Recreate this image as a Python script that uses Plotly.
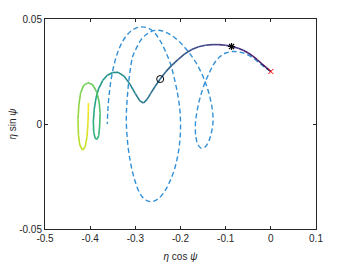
import plotly.graph_objects as go
from plotly.colors import sample_colorscale

# dashed trajectory (eta cos psi, eta sin psi)
dash_x = [0.000, -0.012, -0.025, -0.040, -0.055, -0.070, -0.085, -0.100, -0.113, -0.125,
          -0.136, -0.147, -0.156, -0.163, -0.167, -0.166, -0.161, -0.153, -0.145, -0.137,
          -0.131, -0.128, -0.129, -0.134, -0.142, -0.153, -0.168, -0.185, -0.203, -0.222,
          -0.240, -0.257, -0.272, -0.286, -0.298, -0.306, -0.313, -0.318, -0.320, -0.317,
          -0.311, -0.302, -0.290, -0.277, -0.265, -0.252, -0.238, -0.225, -0.214, -0.206,
          -0.201, -0.200, -0.202, -0.207, -0.214, -0.222, -0.233, -0.246, -0.260, -0.275,
          -0.290, -0.305, -0.320, -0.334, -0.345, -0.353, -0.358, -0.361, -0.362]
dash_y = [0.0250, 0.0268, 0.0290, 0.0315, 0.0333, 0.0343, 0.0345, 0.0338, 0.0320, 0.0290,
          0.0245, 0.0190, 0.0130, 0.0065, 0.0000, -0.0060, -0.0100, -0.0116, -0.0108, -0.0080,
          -0.0035, 0.0010, 0.0060, 0.0120, 0.0180, 0.0240, 0.0300, 0.0350, 0.0393, 0.0425,
          0.0443, 0.0446, 0.0432, 0.0405, 0.0360, 0.0320, 0.0230, 0.0120, 0.0020, -0.0090,
          -0.0180, -0.0262, -0.0330, -0.0362, -0.0370, -0.0360, -0.0330, -0.0280, -0.0220, -0.0150,
          -0.0070, 0.0010, 0.0080, 0.0150, 0.0220, 0.0285, 0.0345, 0.0400, 0.0440, 0.0459,
          0.0462, 0.0450, 0.0420, 0.0368, 0.0300, 0.0220, 0.0140, 0.0060, 0.0000]

# solid trajectory, coloured along its length
traj_x = [0.000, -0.010, -0.020, -0.030, -0.040, -0.050, -0.060, -0.072, -0.087, -0.100,
          -0.115, -0.130, -0.145, -0.160, -0.175, -0.190, -0.205, -0.220, -0.233, -0.245,
          -0.256, -0.266, -0.274, -0.282, -0.290, -0.300, -0.312, -0.325, -0.338, -0.350,
          -0.362, -0.372, -0.381, -0.387, -0.391, -0.393, -0.392, -0.389, -0.385, -0.381,
          -0.379, -0.378, -0.380, -0.386, -0.395, -0.405, -0.414, -0.421, -0.425, -0.427,
          -0.426, -0.423, -0.417, -0.411, -0.407, -0.405, -0.404, -0.404]
traj_y = [0.0250, 0.0268, 0.0287, 0.0306, 0.0323, 0.0338, 0.0350, 0.0361, 0.0369, 0.0375,
          0.0378, 0.0378, 0.0375, 0.0368, 0.0355, 0.0335, 0.0308, 0.0278, 0.0248, 0.0214,
          0.0180, 0.0146, 0.0117, 0.0100, 0.0110, 0.0145, 0.0190, 0.0228, 0.0246, 0.0245,
          0.0232, 0.0208, 0.0170, 0.0125, 0.0070, 0.0010, -0.0040, -0.0068, -0.0073, -0.0055,
          -0.0010, 0.0050, 0.0105, 0.0155, 0.0188, 0.0196, 0.0185, 0.0150, 0.0090, 0.0020,
          -0.0050, -0.0100, -0.0124, -0.0110, -0.0060, 0.0000, 0.0060, 0.0100]

start_pt = (0.000, 0.0250)
star_pt = (-0.087, 0.0369)
circ_pt = (-0.245, 0.0214)

x_ticks = [-0.5, -0.4, -0.3, -0.2, -0.1, 0, 0.1]
y_ticks = [-0.05, 0, 0.05]

fig = go.Figure()

fig.add_trace(go.Scatter(x=dash_x, y=dash_y, mode="lines", line_shape="spline",
                         line=dict(color="#3490D6", width=1.4, dash="5px,3px")))

# colour each segment by normalised path length (pixel-ish scale)
sx, sy = 451.7, 2100.0
cum = [0.0]
for i in range(1, len(traj_x)):
    dx = (traj_x[i] - traj_x[i - 1]) * sx
    dy = (traj_y[i] - traj_y[i - 1]) * sy
    cum.append(cum[-1] + (dx * dx + dy * dy) ** 0.5)
total = cum[-1]
mids = [((cum[i] + cum[i + 1]) / 2 / total) ** 0.85 for i in range(len(cum) - 1)]
cols = sample_colorscale("Viridis", mids)
for i, c in enumerate(cols):
    fig.add_trace(go.Scatter(x=traj_x[i:i + 2], y=traj_y[i:i + 2], mode="lines",
                             line=dict(color=c, width=1.6)))

fig.add_trace(go.Scatter(x=[circ_pt[0]], y=[circ_pt[1]], mode="markers",
                         marker=dict(symbol="circle-open", size=7, color="black",
                                     line=dict(width=1))))
fig.add_trace(go.Scatter(x=[star_pt[0]], y=[star_pt[1]], mode="markers",
                         marker=dict(symbol="asterisk-open", size=6, color="black",
                                     line=dict(width=1.2, color="black"))))
fig.add_trace(go.Scatter(x=[start_pt[0]], y=[start_pt[1]], mode="markers",
                         marker=dict(symbol="x-thin-open", size=5, color="red",
                                     line=dict(width=1, color="red"))))

axis_common = dict(showgrid=False, zeroline=False, ticks="inside", ticklen=3,
                   tickcolor="#262626", linecolor="#262626", linewidth=1,
                   showline=True, mirror="ticks",
                   tickfont=dict(family="Liberation Sans", size=10, color="#262626"))

fig.update_xaxes(range=[-0.5, 0.1], tickvals=x_ticks,
                 ticktext=[("%g" % v) for v in x_ticks],
                 title=dict(text="<i>η</i> cos <i>ψ</i>", standoff=9,
                            font=dict(family="Liberation Sans", size=10, color="#262626")),
                 **axis_common)
fig.update_yaxes(range=[-0.05, 0.05], tickvals=y_ticks,
                 ticktext=[("%g" % v) for v in y_ticks],
                 title=dict(text="<i>η</i> sin <i>ψ</i>", standoff=0,
                            font=dict(family="Liberation Sans", size=10, color="#262626")),
                 **axis_common)

fig.update_layout(width=349, height=262, showlegend=False,
                  margin=dict(l=45, r=33, t=19, b=33, autoexpand=False),
                  plot_bgcolor="white", paper_bgcolor="white")

fig.write_html("out.html", config={"displayModeBar": False},
               post_script="document.body.style.margin='0';document.body.style.overflow='hidden';")
